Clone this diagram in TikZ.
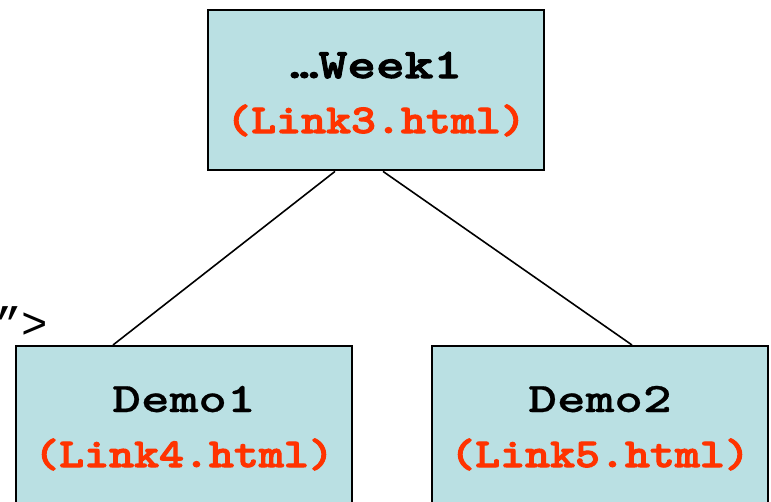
\documentclass[tikz,border=0pt]{standalone}
\usepackage{fontspec}
% slab-serif monospace faces, widened to the proportions of a typewriter face
\newfontfamily\headfont{lmmonolt10-bold.otf}[FakeStretch=1.3, FakeBold=0.6]
\newfontfamily\headboldfont{lmmonolt10-bold.otf}[FakeStretch=1.3, FakeBold=2.5]
\newfontfamily\linkfont{lmmonolt10-bold.otf}[FakeStretch=1.16, FakeBold=2.5]
\newfontfamily\tagfont{Liberation Mono}
\definecolor{boxfill}{RGB}{186,224,227}
\definecolor{linkred}{RGB}{255,51,0}
\tikzset{
  pagebox/.style={draw=black, line width=2.4pt, fill=boxfill, inner sep=0pt,
    minimum width=336pt, anchor=north},
  titletext/.style={inner sep=0pt, anchor=base, font=\fontsize{42}{42}\headfont},
  boldtitle/.style={titletext, font=\fontsize{42}{42}\headboldfont},
  linktext/.style={inner sep=0pt, anchor=base, text=linkred, font=\fontsize{41}{41}\linkfont},
  edge/.style={line width=1.6pt}
}
\begin{document}
\begin{tikzpicture}[x=1pt, y=-1pt]
  \useasboundingbox (0,0) rectangle (771,501);
  \clip (0,0) rectangle (771,501);
  % pages of the site
  \node[pagebox, minimum height=160pt] (w1) at (376,9) {};
  \node[pagebox, minimum height=175pt] (d1) at (184,345) {};
  \node[pagebox, minimum height=175pt] (d2) at (600,345) {};
  % labels
  \node[boldtitle] (w1a) at ([yshift=-69pt]w1.north) {…Week1};
  \node[linktext]  (w1b) at ([yshift=-124pt]w1.north) {(Link3.html)};
  \node[titletext] (d1a) at ([yshift=-67pt]d1.north) {Demo1};
  \node[linktext]  (d1b) at ([yshift=-122pt]d1.north) {(Link4.html)};
  \node[titletext] (d2a) at ([yshift=-67pt]d2.north) {Demo2};
  \node[linktext]  (d2b) at ([yshift=-122pt]d2.north) {(Link5.html)};
  % tail of an HTML tag
  \node[inner sep=0pt, anchor=base west, font=\fontsize{44}{44}\tagfont] (tag) at (-5,338) {”>};
  % links between pages
  \draw[edge] ([xshift=-41pt]w1.south) -- ([xshift=-71pt]d1.north);
  \draw[edge] ([xshift=7pt]w1.south) -- ([xshift=32pt]d2.north);
\end{tikzpicture}
\end{document}
